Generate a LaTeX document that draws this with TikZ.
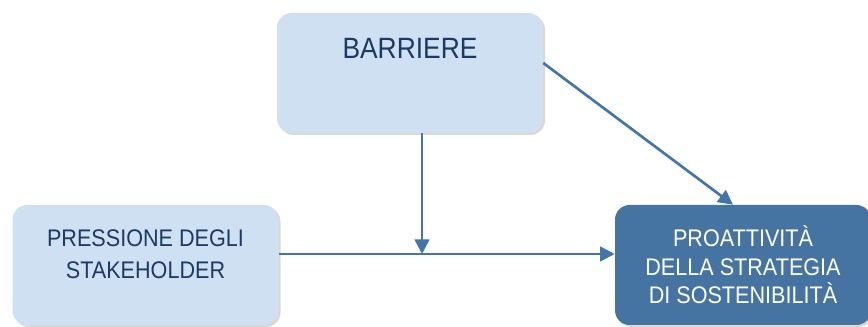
\documentclass[tikz,border=0pt]{standalone}
\usepackage{fontspec}
\newfontfamily\diagfont{Liberation Sans}[FakeStretch=0.9]
\usetikzlibrary{arrows.meta, positioning, shadows}
\definecolor{boxLight}{HTML}{CFE0F3}
\definecolor{boxDark}{HTML}{4573A2}
\definecolor{textNavy}{HTML}{1C3A63}
\definecolor{lineBlue}{HTML}{4575A8}

\begin{document}
\begin{tikzpicture}[
    x=0.75pt, y=0.75pt,
    panel/.style={rectangle, rounded corners=11pt, fill=boxLight, inner sep=0pt,
                  minimum width=199.5pt, minimum height=90pt, align=center,
                  font=\diagfont\fontsize{18}{24}\selectfont, text=textNavy,
                  drop shadow={shadow xshift=1.5pt, shadow yshift=-1.5pt,
                               opacity=0.3}},
    target/.style={panel, fill=boxDark, text=white, minimum width=192pt,
                   font=\diagfont\fontsize{18}{21.4}\selectfont},
    link/.style={draw=lineBlue, line width=2pt,
                 -{Triangle[length=11pt, width=11pt]}},
  ]
    \useasboundingbox (0,0) rectangle (868,327);

    \node[panel, text depth=37.5pt, font=\diagfont\fontsize{22}{26}\selectfont]
      (barriere) at (410,254) {BARRIERE};
    \node[panel, text depth=16.5pt] (pressione) at (145.5,62)
      {PRESSIONE DEGLI\\STAKEHOLDER};
    \node[target] (proattivita) at (743,62)
      {PROATTIVITÀ\\DELLA STRATEGIA\\DI SOSTENIBILITÀ};

    \coordinate (feed) at ([yshift=8.25pt]pressione.east);
    \coordinate (joint) at ([xshift=9pt]barriere.south |- feed);

    \draw[link] (feed) -- (feed -| proattivita.west);
    \draw[link] ([xshift=9pt]barriere.south) -- (joint);
    \draw[link] ([yshift=7.5pt]barriere.east) -- ([xshift=-7.5pt]proattivita.north);
  \end{tikzpicture}
\end{document}
